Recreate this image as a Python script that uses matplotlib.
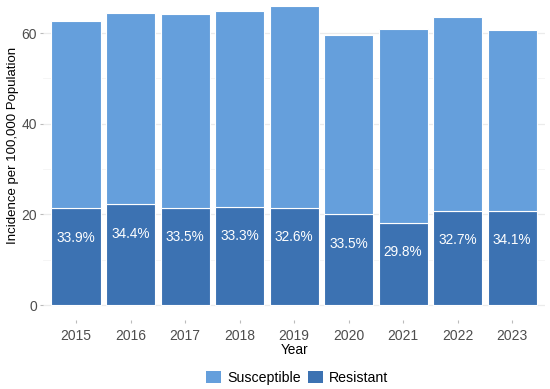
import matplotlib
matplotlib.use("Agg")
import matplotlib.pyplot as plt
import numpy as np
from matplotlib.patches import Patch

years = ["2015", "2016", "2017", "2018", "2019", "2020", "2021", "2022", "2023"]
total = [62.7, 64.5, 64.2, 64.9, 66.0, 59.5, 60.9, 63.6, 60.6]
resistant = [21.3, 22.2, 21.5, 21.6, 21.5, 20.0, 18.1, 20.8, 20.7]
pct_labels = ["33.9%", "34.4%", "33.5%", "33.3%", "32.6%", "33.5%", "29.8%", "32.7%", "34.1%"]
susceptible = [t - r for t, r in zip(total, resistant)]

light = "#659FDC"
dark = "#3C72B2"
gray = "#4D4D4D"

plt.rcParams['font.family'] = ['Liberation Sans', 'DejaVu Sans']

fig = plt.figure(figsize=(5.5, 3.89), dpi=100)
ax = fig.add_axes([0.0787, 0.1774, 0.912, 0.8226])

x = np.arange(len(years))
ax.bar(x, resistant, width=0.9, color=dark, edgecolor="white", linewidth=0.8, zorder=3)
ax.bar(x, susceptible, bottom=resistant, width=0.9, color=light, edgecolor="white", linewidth=0.8, zorder=3)

for xi, r, lab in zip(x, resistant, pct_labels):
    ax.annotate(lab, xy=(xi, r), xytext=(0, -21), textcoords="offset points",
                ha="center", va="center", color="white", fontsize=9.8, zorder=4)

ax.set_xlim(-0.6, len(years) - 0.4)
ax.set_ylim(-3.3, 67.3)
ax.set_xticks(x)
ax.set_xticklabels(years)
ax.set_yticks([0, 20, 40, 60])
ax.set_yticks([10, 30, 50], minor=True)
ax.grid(axis="y", which="major", color="#EBEBEB", linewidth=0.9, zorder=0)
ax.grid(axis="y", which="minor", color="#F4F4F4", linewidth=0.6, zorder=0)
for s in ax.spines.values():
    s.set_visible(False)
ax.tick_params(axis="both", which="major", length=2.5, color="#BBBBBB", labelcolor=gray, labelsize=10, pad=2)
ax.tick_params(axis="x", which="major", pad=4)
ax.tick_params(axis="y", which="minor", length=0)

ax.set_xlabel("Year", fontsize=9.8, color="black", labelpad=0)
fig.text(0.024, 0.627, "Incidence per 100,000 Population", rotation=90,
         ha="center", va="center", fontsize=9.5, color="black")

handles = [Patch(facecolor=light, edgecolor="none", label="Susceptible"),
           Patch(facecolor=dark, edgecolor="none", label="Resistant")]
fig.legend(handles=handles, loc="lower center", bbox_to_anchor=(0.54, -0.022), ncol=2,
           frameon=False, fontsize=10.2, handlelength=1.08, handleheight=1.0,
           handletextpad=0.4, columnspacing=0.5)

fig.savefig("out.png", dpi=100)
